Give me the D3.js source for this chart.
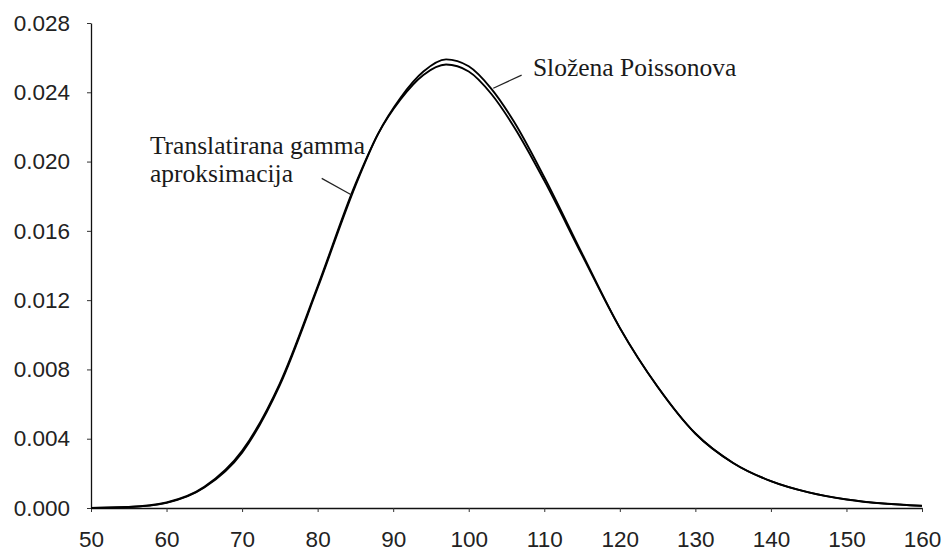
<!DOCTYPE html>
<html>
<head>
<meta charset="utf-8">
<script src="https://cdn.jsdelivr.net/npm/d3@7"></script>
<style>
  body { margin: 0; background: #fff; }
  .tick text { font-family: "Liberation Sans", Arial, sans-serif; font-size: 22.5px; fill: #222; }
  .serifLabel { font-family: "Liberation Serif", "Times New Roman", serif; font-size: 25.5px; fill: #1a1a1a; }
</style>
</head>
<body>
<svg id="chart" width="944" height="551"></svg>
<script>
// x values (claim amount) and the two densities
const xs = [50,55,60,65,70,75,80,85,88,91,94,97,100,103,106,110,115,120,125,130,135,140,145,150,155,160]
const poisson = [0.000008,0.000056,0.00030,0.00118,0.0032,0.0071,0.0127,0.0186,0.0216,0.0237,0.0252,0.0259,0.0255,0.0242,0.0223,0.0191,0.0147,0.0104,0.0070,0.0043,0.0026,0.00155,0.0009,0.0005,0.00026,0.00013]
const gamma = [0.000008,0.00006,0.00032,0.00122,0.0033,0.0072,0.0128,0.0187,0.0216,0.0236,0.0250,0.0256,0.0252,0.0239,0.0220,0.0189,0.0146,0.0104,0.0070,0.0043,0.0026,0.00155,0.0009,0.00049,0.00025,0.00012]

const xTicks = [50,60,70,80,90,100,110,120,130,140,150,160]
const yTicks = [0,0.004,0.008,0.012,0.016,0.020,0.024,0.028]

const svg = d3.select("#chart")

const x = d3.scaleLinear().domain([50,160]).range([91,922])
const y = d3.scaleLinear().domain([0,0.028]).range([508,23])

const xAxis = svg.append("g")
  .attr("transform", "translate(0," + y(0) + ")")
  .call(d3.axisBottom(x).tickValues(xTicks).tickSize(4).tickSizeOuter(0).tickPadding(19))
xAxis.select(".domain").attr("stroke", "#111").attr("stroke-width", 1.3)
xAxis.selectAll(".tick line").attr("stroke", "#333")

const yAxis = svg.append("g")
  .attr("transform", "translate(" + x(50) + ",0)")
  .call(d3.axisLeft(y).tickValues(yTicks).tickFormat(d3.format(".3f")).tickSize(4).tickSizeOuter(0).tickPadding(17))
yAxis.select(".domain").attr("stroke", "#111").attr("stroke-width", 1.3)
yAxis.selectAll(".tick line").attr("stroke", "#333")

const line = (vals) => d3.line()
  .x((d,i) => x(xs[i]))
  .y(d => y(d))
  .curve(d3.curveMonotoneX)(vals)

const drawCurve = (vals) => {
  svg.append("path")
    .attr("d", line(vals))
    .attr("fill", "none")
    .attr("stroke", "#000")
    .attr("stroke-width", 1.9)
}
drawCurve(gamma)
drawCurve(poisson)

// labels with leader lines, positioned in data units
const createLeader = (p1, p2) => {
  svg.append("path")
    .attr("d", d3.line()([[x(p1[0]), y(p1[1])], [x(p2[0]), y(p2[1])]]))
    .attr("stroke", "#222")
    .attr("stroke-width", 1.2)
}
const createLabel = (text, px, py) => {
  svg.append("text")
    .attr("class", "serifLabel")
    .attr("x", x(px))
    .attr("y", y(py))
    .text(text)
}

createLeader([103.25, 0.02423], [107.0, 0.02499])
createLabel("Složena Poissonova", 108.5, 0.02495)

createLeader([84.5, 0.01807], [80.54, 0.01903])
createLabel("Translatirana gamma", 57.8, 0.02043)
createLabel("aproksimacija", 57.8, 0.01882)
</script>
</body>
</html>
